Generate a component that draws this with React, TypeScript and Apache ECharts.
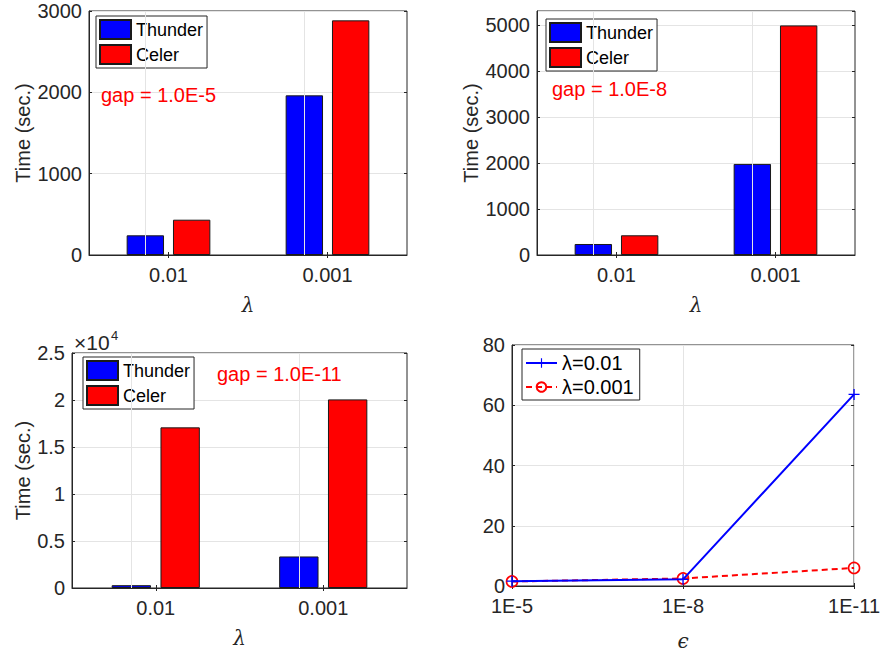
import React, { useEffect, useRef } from "react";
import * as echarts from "echarts";

const categories = ["0.01", "0.001"];
const thunderGap5 = [242, 1963];
const celerGap5 = [434, 2885];
const thunderGap8 = [239, 1978];
const celerGap8 = [428, 4987];
const thunderGap11 = [300, 3355];
const celerGap11 = [17091, 20064];
const epsLabels = ["1E-5", "1E-8", "1E-11"];
const ratioLam01 = [1.6, 2.2, 63.6];
const ratioLam001 = [1.5, 2.5, 6.0];

const FONT = "Liberation Sans";
const TXT = "#262626";
const GRIDC = "#e4e4e4";
const BLUE = "#0000ff";
const RED = "#ff0000";

const grids = [
  { left: 89, top: 11, width: 318, height: 244 },
  { left: 537, top: 11, width: 318, height: 244 },
  { left: 72, top: 353, width: 335, height: 235 },
  { left: 512, top: 345, width: 343, height: 243 },
];

const yDefs = [
  { max: 3000, interval: 1000, name: "Time (sec.)", nameGap: 56 },
  { max: 5300, interval: 1000, name: "Time (sec.)", nameGap: 56 },
  { max: 25000, interval: 5000, name: "Time (sec.)", nameGap: 39 },
  { max: 80, interval: 20, name: "", nameGap: 0 },
];

export default function App() {
  const ref = useRef<HTMLDivElement>(null);
  useEffect(() => {
    if (!ref.current) return;
    const chart = echarts.init(ref.current, null, { renderer: "svg" });

    const xAxes: any[] = [];
    const yAxes: any[] = [];
    grids.forEach((g, i) => {
      const isLine = i === 3;
      const xName = isLine ? "\u03f5" : "\u03bb";
      xAxes.push({
        type: "category",
        gridIndex: i,
        data: isLine ? epsLabels : categories,
        boundaryGap: !isLine,
        axisLine: { show: true, lineStyle: { color: TXT, width: 1 } },
        axisTick: { show: true, inside: true, length: 3, alignWithLabel: true, lineStyle: { color: TXT } },
        axisLabel: { color: TXT, fontSize: 20, fontFamily: FONT, margin: 10 },
        splitLine: { show: isLine, lineStyle: { color: GRIDC, width: 1 } },
        name: xName,
        nameLocation: "middle",
        nameGap: isLine ? 45 : 40,
        nameTextStyle: {
          fontFamily: "DejaVu Serif",
          fontStyle: "italic",
          fontSize: 20,
          color: TXT,
        },
      });
      xAxes.push({
        type: "category",
        gridIndex: i,
        position: "top",
        data: isLine ? epsLabels : categories,
        boundaryGap: !isLine,
        axisLine: { show: false },
        axisTick: { show: true, inside: true, length: 3, alignWithLabel: true, lineStyle: { color: TXT } },
        axisLabel: { show: false },
        splitLine: { show: false },
      });
      const yd = yDefs[i];
      yAxes.push({
        type: "value",
        gridIndex: i,
        min: 0,
        max: yd.max,
        interval: yd.interval,
        axisLine: { show: true, lineStyle: { color: TXT, width: 1 } },
        axisTick: { show: true, inside: true, length: 3, lineStyle: { color: TXT } },
        axisLabel: {
          color: TXT,
          fontSize: 20,
          fontFamily: FONT,
          margin: 7,
          showMaxLabel: i !== 1,
          formatter: (v: number) => (i === 2 ? String(v / 10000) : String(v)),
        },
        splitLine: { show: true, lineStyle: { color: GRIDC, width: 1 } },
        name: yd.name,
        nameLocation: "middle",
        nameGap: yd.nameGap,
        nameTextStyle: { fontFamily: FONT, fontSize: 20, color: TXT },
      });
      yAxes.push({
        type: "value",
        gridIndex: i,
        position: "right",
        min: 0,
        max: yd.max,
        interval: yd.interval,
        axisLine: { show: false },
        axisTick: { show: true, inside: true, length: 3, lineStyle: { color: TXT } },
        axisLabel: { show: false },
        splitLine: { show: false },
      });
    });

    const barSeries = (name: string, data: number[], gi: number, color: string, withGrid: boolean) => ({
      type: "bar",
      name,
      xAxisIndex: gi * 2,
      yAxisIndex: gi * 2,
      data,
      barWidth: "23.5%",
      barGap: "24%",
      itemStyle: { color, borderColor: "#1a1a1a", borderWidth: 1 },
      markLine: withGrid
        ? {
            silent: true,
            symbol: ["none", "none"],
            label: { show: false },
            lineStyle: { color: GRIDC, type: "solid", width: 1 },
            data: categories.map((c) => ({ xAxis: c })),
          }
        : undefined,
    });

    const series: any[] = [
      barSeries("Thunder", thunderGap5, 0, BLUE, true),
      barSeries("Celer", celerGap5, 0, RED, false),
      barSeries("Thunder", thunderGap8, 1, BLUE, true),
      barSeries("Celer", celerGap8, 1, RED, false),
      barSeries("Thunder", thunderGap11, 2, BLUE, true),
      barSeries("Celer", celerGap11, 2, RED, false),
      {
        type: "line",
        name: "\u03bb=0.01",
        xAxisIndex: 6,
        yAxisIndex: 6,
        data: ratioLam01,
        symbol: "path://M4.4,0H5.6V10H4.4ZM0,4.4H10V5.6H0Z",
        symbolSize: 11,
        itemStyle: { color: BLUE },
        lineStyle: { color: BLUE, width: 2, type: "solid" },
        z: 3,
      },
      {
        type: "line",
        name: "\u03bb=0.001",
        xAxisIndex: 6,
        yAxisIndex: 6,
        data: ratioLam001,
        symbol: "circle",
        symbolSize: 11,
        itemStyle: { color: "rgba(255,255,255,0)", borderColor: RED, borderWidth: 1.6 },
        lineStyle: { color: RED, width: 2, type: [6, 4] },
        z: 2,
      },
    ];

    const legendBase = {
      orient: "vertical",
      backgroundColor: "#ffffff",
      borderColor: "#262626",
      borderWidth: 1,
      borderRadius: 0,
      padding: [3, 4, 3, 3],
      itemGap: 4,
      itemWidth: 31,
      itemHeight: 19,
      icon: "rect",
      textStyle: { fontFamily: FONT, fontSize: 18, color: "#000" },
      selectedMode: false,
    };

    const legends = [
      { ...legendBase, left: 96, top: 16, data: ["Thunder", "Celer"] },
      { ...legendBase, left: 546, top: 19, data: ["Thunder", "Celer"] },
      { ...legendBase, left: 83, top: 357, data: ["Thunder", "Celer"] },
      {
        ...legendBase,
        icon: undefined,
        left: 522,
        top: 349,
        itemHeight: 12,
        itemGap: 4,
        padding: [4, 6, 3, 3],
        textStyle: { fontFamily: FONT, fontSize: 20, color: "#000" },
        data: ["\u03bb=0.01", "\u03bb=0.001"],
      },
    ];

    const gapText = (text: string, x: number, y: number) => ({
      type: "text",
      left: x,
      top: y,
      z: 100,
      style: { text, fill: RED, fontSize: 20, fontFamily: FONT },
    });

    chart.setOption({
      animation: false,
      backgroundColor: "#ffffff",
      grid: grids.map((g) => ({
        ...g,
        show: true,
        borderColor: TXT,
        borderWidth: 1,
        backgroundColor: "#ffffff",
        containLabel: false,
      })),
      xAxis: xAxes,
      yAxis: yAxes,
      legend: legends,
      series,
      graphic: [
        gapText("gap = 1.0E-5", 101, 85),
        gapText("gap = 1.0E-8", 552, 79),
        gapText("gap = 1.0E-11", 217, 364),
        {
          type: "text",
          left: 74,
          top: 332,
          style: { text: "\u00d710", fill: TXT, fontSize: 21, fontFamily: FONT },
        },
        {
          type: "text",
          left: 111,
          top: 329,
          style: { text: "4", fill: TXT, fontSize: 13, fontFamily: FONT },
        },
      ],
    });
    return () => chart.dispose();
  }, []);
  return (
    <div
      ref={ref}
      style={{ position: "fixed", left: 0, top: 0, width: 883, height: 652, background: "#fff" }}
    />
  );
}
